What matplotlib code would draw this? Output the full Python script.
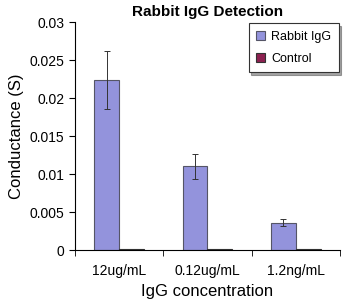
import matplotlib.pyplot as plt
import numpy as np

plt.rcParams['font.family'] = ['Liberation Sans', 'DejaVu Sans']

categories = ["12ug/mL", "0.12ug/mL", "1.2ng/mL"]
rabbit = [0.0224, 0.0110, 0.0036]
rabbit_err = [0.0038, 0.0017, 0.0005]
control = [0.0001, 0.0001, 0.0001]

x = np.arange(len(categories))
w = 0.28

fig = plt.figure(figsize=(3.49, 3.02), dpi=100)
ax = fig.add_axes([0.215, 0.172, 0.759, 0.755])

ax.bar(x - w / 2, rabbit, w, color="#9393dc", edgecolor="#555566", linewidth=0.8,
       yerr=rabbit_err, error_kw=dict(ecolor="#333333", elinewidth=0.7, capsize=2.5, capthick=0.7),
       label="Rabbit IgG")
ax.bar(x + w / 2, control, w, color="#8c2050", edgecolor="#333333", linewidth=0.8,
       label="Control")

ax.set_xlim(-0.5, 2.5)
ax.set_ylim(0, 0.03)
ax.set_yticks([0, 0.005, 0.01, 0.015, 0.02, 0.025, 0.03])
ax.set_yticklabels(["0", "0.005", "0.01", "0.015", "0.02", "0.025", "0.03"])
ax.set_xticks(x)
ax.set_xticklabels(categories)
ax.set_xticks([-0.5, 0.5, 1.5, 2.5], minor=True)
ax.tick_params(axis='x', which='major', length=0, labelsize=10, pad=10)
ax.tick_params(axis='x', which='minor', length=4, direction='out')
ax.tick_params(axis='y', length=4, direction='out', labelsize=10)
ax.spines['top'].set_visible(False)
ax.spines['right'].set_visible(False)

ax.set_xlabel("IgG concentration", fontsize=12)
ax.set_ylabel("Conductance (S)", fontsize=12)
ax.set_title("Rabbit IgG Detection", fontsize=11, fontweight='bold', pad=4)

leg = ax.legend(loc='upper right', fontsize=9, frameon=True, fancybox=False, shadow=True,
                handlelength=0.7, handleheight=0.7, borderaxespad=0.1, edgecolor="#333333",
                labelspacing=0.8, borderpad=0.6, handletextpad=0.5)
leg.get_frame().set_linewidth(0.8)

fig.savefig("out.png", dpi=100)
